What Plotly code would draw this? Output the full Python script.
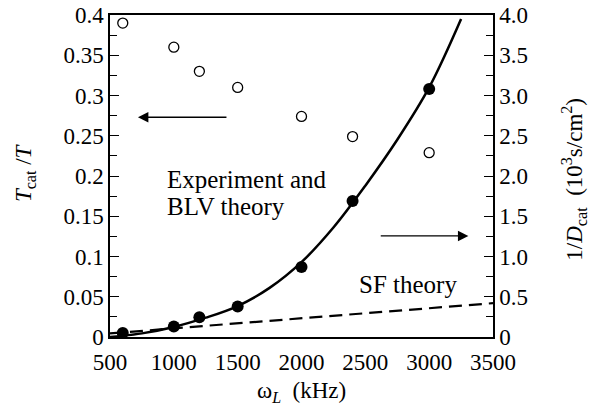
import plotly.graph_objects as go

# Data
omega_exp = [600, 1000, 1200, 1500, 2000, 2400, 3000]          # kHz
tcat_over_t = [0.39, 0.36, 0.33, 0.31, 0.274, 0.249, 0.229]     # left axis (open circles)
inv_dcat = [0.05, 0.13, 0.245, 0.38, 0.87, 1.69, 3.08]          # right axis (filled circles)

blv_omega = [500, 750, 1000, 1250, 1500, 1750, 2000, 2250, 2500, 2750, 3000, 3250]
blv_inv_d = [0.0, 0.045, 0.125, 0.24, 0.385, 0.61, 0.93, 1.36, 1.88, 2.45, 3.1, 3.95]

sf_omega = [500, 3500]
sf_inv_d = [0.045, 0.42]

right_ticks = [0, 0.5, 1.0, 1.5, 2.0, 2.5, 3.0, 3.5, 4.0]
right_ticktext = ["0", "0.5", "1.0", "1.5", "2.0", "2.5", "3.0", "3.5", "4.0"]
left_ticks = [0, 0.05, 0.1, 0.15, 0.2, 0.25, 0.3, 0.35, 0.4]
left_ticktext = ["0", "0.05", "0.1", "0.15", "0.2", "0.25", "0.3", "0.35", "0.4"]
x_ticks = [500, 1000, 1500, 2000, 2500, 3000, 3500]

FONT = "Liberation Serif, Times New Roman, Times, serif"
TICK_SIZE = 23
ANN_SIZE = 25

fig = go.Figure()

fig.add_trace(go.Scatter(
    x=sf_omega, y=sf_inv_d, yaxis="y2", mode="lines",
    line=dict(color="black", width=2.2, dash="13px,7px"), showlegend=False))

fig.add_trace(go.Scatter(
    x=blv_omega, y=blv_inv_d, yaxis="y2", mode="lines",
    line=dict(color="black", width=2.5, shape="spline", smoothing=1.0), showlegend=False))

fig.add_trace(go.Scatter(
    x=omega_exp, y=inv_dcat, yaxis="y2", mode="markers", cliponaxis=False,
    marker=dict(symbol="circle", size=12, color="black"), showlegend=False))

fig.add_trace(go.Scatter(
    x=omega_exp, y=tcat_over_t, yaxis="y", mode="markers", cliponaxis=False,
    marker=dict(symbol="circle-open", size=10, color="black", line=dict(width=1.3, color="black")),
    showlegend=False))

fig.update_layout(
    width=593, height=412,
    margin=dict(l=110, r=100, t=15, b=75, autoexpand=False),
    paper_bgcolor="white", plot_bgcolor="white",
    showlegend=False,
    font=dict(family=FONT, size=TICK_SIZE, color="black"),
    xaxis=dict(range=[500, 3500], tickvals=x_ticks, showgrid=False, zeroline=False,
               showline=True, linecolor="black", linewidth=1.5, mirror=True, automargin=False,
               ticks="", ticklabelstandoff=4, tickfont=dict(family=FONT, size=TICK_SIZE)),
    yaxis=dict(range=[0, 0.4], tickvals=left_ticks, ticktext=left_ticktext, automargin=False,
               showgrid=False, zeroline=False, showline=True, linecolor="black", linewidth=1.5,
               ticks="inside", ticklen=9, tickwidth=1.2, tickcolor="black",
               minor=dict(ticks="inside", dtick=0.025, ticklen=7, tickwidth=1.2, tickcolor="black"),
               tickfont=dict(family=FONT, size=TICK_SIZE)),
    yaxis2=dict(range=[0, 4.0], overlaying="y", side="right", tickvals=right_ticks,
                ticktext=right_ticktext, showgrid=False, zeroline=False, showline=True,
                linecolor="black", linewidth=1.5, automargin=False,
                ticks="inside", ticklen=9, tickwidth=1.2, tickcolor="black",
                minor=dict(ticks="inside", dtick=0.25, ticklen=7, tickwidth=1.2, tickcolor="black"),
                tickfont=dict(family=FONT, size=TICK_SIZE)),
)

annotations = [
    # axis titles
    dict(text="ω<sub><i>L</i></sub>  (kHz)", xref="paper", yref="paper", x=0.5, y=-0.17,
         xanchor="center", yanchor="middle", showarrow=False, font=dict(family=FONT, size=TICK_SIZE)),
    dict(text="<i>T</i><sub>cat</sub> /<i>T</i>", xref="paper", yref="paper", x=-0.222, y=0.512,
         xanchor="center", yanchor="middle", textangle=-90, showarrow=False,
         font=dict(family=FONT, size=TICK_SIZE)),
    dict(text="1/<i>D</i><sub>cat</sub>  (10<sup>3</sup>s/cm<sup>2</sup>)", xref="paper", yref="paper",
         x=1.21, y=0.49, xanchor="center", yanchor="middle", textangle=-90, showarrow=False,
         font=dict(family=FONT, size=TICK_SIZE)),
    # labels
    dict(text="Experiment and", xref="x", yref="y", x=931, y=0.196, xanchor="left", yanchor="middle",
         showarrow=False, font=dict(family=FONT, size=ANN_SIZE)),
    dict(text="BLV theory", xref="x", yref="y", x=931, y=0.1615, xanchor="left", yanchor="middle",
         showarrow=False, font=dict(family=FONT, size=ANN_SIZE)),
    dict(text="SF theory", xref="x", yref="y", x=2432, y=0.065, xanchor="left", yanchor="middle",
         showarrow=False, font=dict(family=FONT, size=ANN_SIZE)),
    # arrows
    dict(text="", xref="x", yref="y", x=719, y=0.273, axref="x", ayref="y", ax=1424, ay=0.273,
         showarrow=True, arrowhead=2, arrowsize=1.6, arrowwidth=1.3, arrowcolor="black"),
    dict(text="", xref="x", yref="y", x=3307, y=0.1255, axref="x", ayref="y", ax=2609, ay=0.1255,
         showarrow=True, arrowhead=2, arrowsize=1.6, arrowwidth=1.3, arrowcolor="black"),
]
fig.update_layout(annotations=annotations)

fig.write_html("out.html", config={"displayModeBar": False},
               post_script="document.body.style.margin='0';")
